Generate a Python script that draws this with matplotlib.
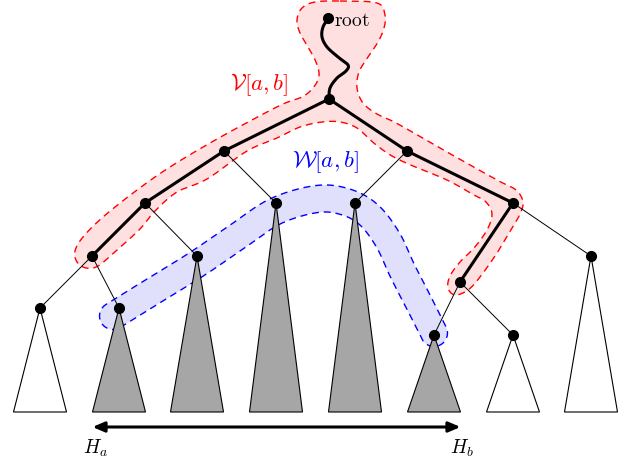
import numpy as np
import matplotlib.pyplot as plt
from matplotlib.patches import Polygon

plt.rcParams['mathtext.fontset'] = 'cm'

# node positions in picture pixels (y grows downward)
nodes = {
    'root': (328, 18), 'a': (329, 99), 'b': (224, 151), 'c': (407, 151),
    'd': (145, 203), 'e': (276, 203), 'f': (355, 203), 'g': (513, 203),
    'h': (92, 256), 'i': (197, 256), 'j': (460, 282), 'k': (591, 256),
    'l': (40, 308), 'm': (119, 308), 'n': (434, 335), 'o': (513, 335),
}
thick_edges = [('a', 'b'), ('b', 'd'), ('d', 'h'), ('a', 'c'), ('c', 'g'), ('g', 'j')]
thin_edges = [('b', 'e'), ('d', 'i'), ('h', 'l'), ('h', 'm'),
              ('c', 'f'), ('g', 'k'), ('j', 'n'), ('j', 'o')]
leaves = ['l', 'm', 'i', 'e', 'f', 'n', 'o', 'k']
leaf_shaded = [False, True, True, True, True, True, False, False]
base_y = 412
half_w = 26.5

# wiggly path root -> a
root_path = [(328, 19), (323, 27), (322, 37), (327, 47), (338, 57), (348, 65),
             (346, 71), (337, 78), (330, 88), (329, 99)]

# outline of V[a,b] (pink)
red_outline = [(340, 1), (377, 3), (385, 15), (384, 28), (378, 42), (368, 57),
               (359, 72), (357, 88), (363, 103), (377, 114), (398, 124),
               (447, 152), (497, 180), (516, 190), (523, 202), (520, 214),
               (512, 228), (497, 253), (480, 277), (468, 290), (455, 295),
               (448, 288), (450, 276), (460, 262), (474, 248), (487, 230),
               (492, 214), (486, 202), (474, 195), (447, 180), (413, 166),
               (392, 156), (375, 144), (357, 128), (340, 122), (322, 122),
               (300, 127), (277, 138), (247, 151), (207, 179), (177, 192),
               (155, 211), (140, 229), (117, 250), (98, 266), (86, 268),
               (77, 262), (75, 251), (83, 237), (103, 217), (137, 190),
               (170, 167), (210, 143), (250, 121), (283, 104), (302, 97),
               (313, 88), (319, 76), (316, 62), (308, 47), (300, 33),
               (297, 20), (302, 8), (315, 2)]
# centre line of W[a,b] (blue band) and its half width
blue_center = [(113, 316), (150, 293), (197, 264), (238, 236), (276, 211),
               (317, 199), (346, 202), (369, 215), (388, 240), (403, 272),
               (420, 305), (434, 333)]
blue_radius = 13.5


def smooth(pts, closed=False, n=16):
    p = np.asarray(pts, float)
    if closed:
        p = np.vstack([p[-1], p, p[0], p[1]])
    else:
        p = np.vstack([p[0], p, p[-1]])
    t = np.linspace(0, 1, n, endpoint=False)[:, None]
    out = []
    for k in range(1, len(p) - 2):
        p0, p1, p2, p3 = p[k - 1], p[k], p[k + 1], p[k + 2]
        out.append(0.5 * (2 * p1 + (p2 - p0) * t
                          + (2 * p0 - 5 * p1 + 4 * p2 - p3) * t ** 2
                          + (3 * p1 - p0 - 3 * p2 + p3) * t ** 3))
    out.append(p[-2][None])
    return np.vstack(out)


def band(center, r):
    c = smooth(center)
    tg = np.gradient(c, axis=0)
    tg /= np.linalg.norm(tg, axis=1)[:, None]
    nm = np.column_stack([-tg[:, 1], tg[:, 0]])
    left, right = c + r * nm, c - r * nm
    th1 = np.arctan2(tg[-1, 1], tg[-1, 0])
    phi = np.linspace(th1 + np.pi / 2, th1 - np.pi / 2, 20)
    cap1 = c[-1] + r * np.column_stack([np.cos(phi), np.sin(phi)])
    th0 = np.arctan2(tg[0, 1], tg[0, 0])
    phi = np.linspace(th0 - np.pi / 2, th0 - 3 * np.pi / 2, 20)
    cap0 = c[0] + r * np.column_stack([np.cos(phi), np.sin(phi)])
    return np.vstack([left, cap1, right[::-1], cap0])


fig = plt.figure(figsize=(6.32, 4.62), dpi=100)
ax = fig.add_axes([0, 0, 1, 1])
ax.set_xlim(0, 632)
ax.set_ylim(462, 0)
ax.axis('off')

# highlighted regions
shapes = [(smooth(red_outline, closed=True), '#ffe0e0', 'red'),
          (band(blue_center, blue_radius), '#e0e0fc', 'blue')]
for s, fill, edge in shapes:
    s = np.vstack([s, s[:1]])
    ax.add_patch(Polygon(s, closed=True, facecolor=fill, edgecolor='none', zorder=1))
    ax.plot(s[:, 0], s[:, 1], color=edge, lw=1.0, ls=(0, (5, 3.5)), zorder=2)

# leaf subtrees
for name, shaded in zip(leaves, leaf_shaded):
    x, y = nodes[name]
    tri = [(x, y), (x - half_w, base_y), (x + half_w, base_y)]
    ax.add_patch(Polygon(tri, closed=True, facecolor='#a6a6a6' if shaded else 'white',
                         edgecolor='black', lw=0.8, zorder=3))

for u, v in thin_edges:
    (x1, y1), (x2, y2) = nodes[u], nodes[v]
    ax.plot([x1, x2], [y1, y2], color='black', lw=0.7, zorder=4)
for u, v in thick_edges:
    (x1, y1), (x2, y2) = nodes[u], nodes[v]
    ax.plot([x1, x2], [y1, y2], color='black', lw=2.2, solid_capstyle='round', zorder=5)
rp = smooth(root_path)
ax.plot(rp[:, 0], rp[:, 1], color='black', lw=2.2, solid_capstyle='round', zorder=5)

xs = [p[0] for p in nodes.values()]
ys = [p[1] for p in nodes.values()]
ax.plot(xs, ys, 'o', color='black', ms=7, zorder=6)

# labels
ax.text(334, 20, r'$\mathrm{root}$', fontsize=14, ha='left', va='center', zorder=7)
ax.text(259, 85, r'$\mathcal{V}[a,b]$', fontsize=16.5, color='red', ha='center', va='center')
ax.text(325, 162, r'$\mathcal{W}[a,b]$', fontsize=16.5, color='blue', ha='center', va='center')

# range arrow H_a ... H_b
x_left = nodes['m'][0] - half_w
x_right = nodes['n'][0] + half_w
ax.annotate('', xy=(x_right, 427), xytext=(x_left, 427),
            arrowprops=dict(arrowstyle='<|-|>,head_length=0.7,head_width=0.3',
                            lw=2.2, color='black', shrinkA=0, shrinkB=0))
ax.text(95, 448, r'$H_a$', fontsize=14, ha='center', va='center')
ax.text(462, 448, r'$H_b$', fontsize=14, ha='center', va='center')

fig.savefig('out.png', dpi=100)
